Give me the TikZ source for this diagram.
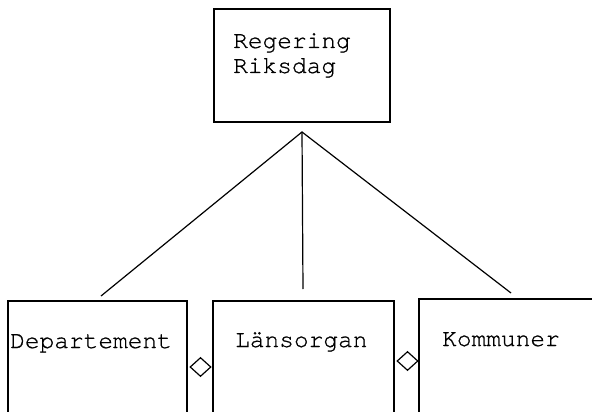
\documentclass[tikz,border=0pt]{standalone}
\usepackage{fontspec}
\setmonofont[FakeBold=0.8]{TeX Gyre Cursor}
\usetikzlibrary{shapes.geometric}
\begin{document}
\begin{tikzpicture}[x=1pt,y=-1pt,
  box/.style={draw,line width=1.3pt,rectangle,inner sep=0pt,outer sep=0pt},
  lbl/.style={font=\ttfamily\fontsize{24.5}{25}\selectfont,anchor=base west,inner sep=0pt},
  conn/.style={line width=1.2pt},
  dia/.style={draw,diamond,line width=1.2pt,inner sep=0pt,minimum width=21pt,minimum height=19pt}]
\useasboundingbox (0,0) rectangle (592,412);
\clip (0,0) rectangle (592,412);
\fill[white] (0,0) rectangle (592,412);
% top box
\node[box,minimum width=176pt,minimum height=113pt] (top) at (302,65.5) {};
\node[lbl] (reg) at (233,48) {Regering};
\node[lbl] (rik) at (233,73) {Riksdag};
% bottom boxes (clipped at bottom)
\node[box,minimum width=179pt,minimum height=130pt] (dep) at (97.5,366) {};
\node[box,minimum width=181pt,minimum height=130pt] (lan) at (303.5,366) {};
\node[box,minimum width=181pt,minimum height=132pt] (kom) at (509.5,365) {};
\node[lbl] (deptxt) at (10,348) {Departement};
\node[lbl] (lantxt) at (235,347) {Länsorgan};
\node[lbl] (komtxt) at (442,346) {Kommuner};
% connectors
\coordinate (apex) at (302,132);
\coordinate (e1) at (101,296);
\coordinate (e2) at (303,289);
\coordinate (e3) at (511,293);
\draw[conn] (e1) -- (apex) -- (e3);
\draw[conn] (apex) -- (e2);
% diamonds
\node[dia] (d1) at (200.5,367) {};
\node[dia] (d2) at (407.5,361) {};
\end{tikzpicture}
\end{document}
